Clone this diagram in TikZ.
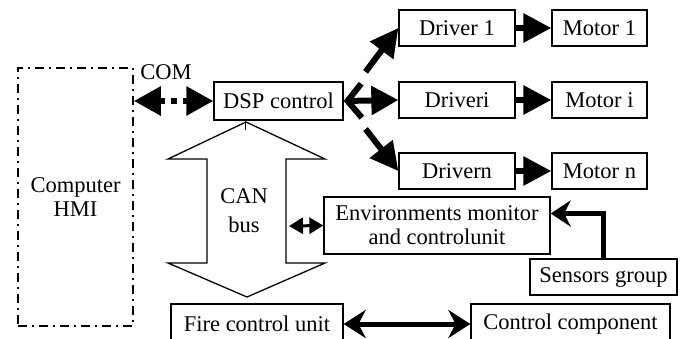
\documentclass[tikz,border=0pt]{standalone}
\usepackage{fontspec}
\setmainfont{Liberation Serif}
\usetikzlibrary{arrows.meta, positioning, calc}

\begin{document}
\begin{tikzpicture}[x=1pt, y=-1pt, font=\fontsize{22.5}{26}\selectfont,
  box/.style={draw, line width=1.3pt, inner sep=0pt, minimum height=36pt, align=center},
  bigarrow/.style={line width=6pt, -{Triangle[length=28pt, width=28pt]}},
  fatline/.style={line width=5pt, line join=miter}]
  \useasboundingbox (0,0) rectangle (683,338);

  % host side
  \node[box, minimum width=115pt, minimum height=258pt, line width=1.8pt,
        dash pattern=on 9pt off 5pt on 2pt off 5pt] (hmi) at (75.5,197) {Computer\\[-2pt]HMI};
  \node[box, minimum width=129pt, minimum height=38pt] (dsp) at (278.5,101) {DSP control};
  \node (com) at (166,72) {COM};

  % drivers and motors
  \node[box, minimum width=116pt] (drv1) at (457,28) {Driver 1};
  \node[box, minimum width=116pt] (drvi) at (457,100) {Driveri};
  \node[box, minimum width=116pt] (drvn) at (457,171) {Drivern};
  \node[box, minimum width=95pt] (mot1) at (599.5,28) {Motor 1};
  \node[box, minimum width=95pt] (moti) at (599.5,100) {Motor i};
  \node[box, minimum width=95pt] (motn) at (599.5,171) {Motor n};

  % field units
  \node[box, minimum width=226pt, minimum height=57pt] (env) at (437,225.5) {Environments monitor\\[-2pt]and controlunit};
  \node[box, minimum width=147pt] (sens) at (603.5,277) {Sensors group};
  \node[box, minimum width=172pt, minimum height=40pt] (fire) at (257,324) {Fire control unit};
  \node[box, minimum width=199pt, minimum height=40pt] (ctrl) at (570.5,324) {Control component};

  % CAN bus block arrow
  \draw[line width=1.3pt, line join=miter]
    (246,122) -- (325,159) -- (286,159) -- (286,263) -- (325,263) -- (247,297)
    -- (168,263) -- (207,263) -- (207,159) -- (168,159) -- cycle;
  \node[align=center, font=\fontsize{22.5}{29}\selectfont] (can) at (244,211) {CAN\\bus};
  \coordinate (busE) at (289,226);
  \draw[line width=1pt] (dsp.south -| 245,0) -- ++(0,9);

  % links
  \draw[line width=6pt, dash pattern=on 6pt off 6pt,
        {Triangle[length=27pt, width=28pt]}-{Triangle[length=27pt, width=28pt]}]
    (hmi.east |- dsp.west) -- (dsp.west);
  \draw[bigarrow] ($(dsp.east)!0.4!(drv1.west)$) -- (drv1.west);
  \draw[bigarrow] ($(dsp.east)!0.4!(drvn.west)$) -- (drvn.west);
  \draw[line width=6pt, {Straight Barb[length=14pt, width=34pt]}-{Triangle[length=27pt, width=28pt]}]
    (dsp.east) -- (drvi.west);
  \foreach \d/\m in {drv1/mot1, drvi/moti, drvn/motn}
    \draw[bigarrow] (\d) -- (\m);
  \draw[line width=3pt, {Triangle[length=14pt, width=16pt]}-{Triangle[length=14pt, width=16pt]}]
    (busE) -- (env.west);
  \draw[fatline, -{Stealth[length=20pt, width=26pt]}] (sens.north) |- ([yshift=12pt]env.east);
  \draw[fatline, {Stealth[length=22pt, width=28pt]}-{Stealth[length=22pt, width=28pt]}]
    (fire.east) -- (ctrl.west);
\end{tikzpicture}
\end{document}
